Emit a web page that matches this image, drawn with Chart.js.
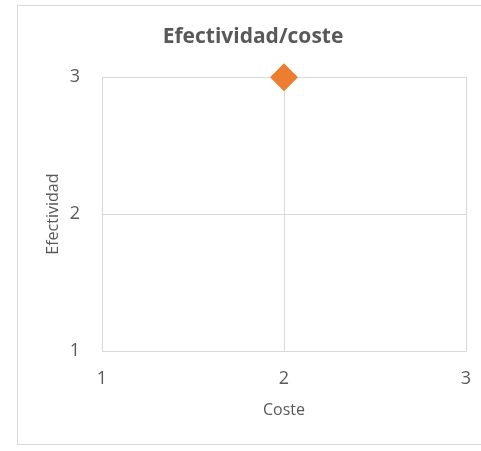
<!DOCTYPE html>
<html>
<head>
<meta charset="utf-8">
<script src="https://cdn.jsdelivr.net/npm/chart.js@4.4.0/dist/chart.umd.min.js"></script>
<style>
  body { margin: 0; background: #fff; }
  .wrap { position: relative; width: 481px; height: 451px; }
  .frame { position: absolute; left: 17px; top: 5px; width: 480px; height: 440px; border: 1px solid #d9d9d9; box-sizing: border-box; }
  canvas { position: absolute; left: 0; top: 0; }
</style>
</head>
<body>
<div class="wrap">
  <div class="frame"></div>
  <canvas id="scatterChart" width="481" height="451"></canvas>
</div>
<script>
// cost vs effectiveness points
const coste = [2];
const efectividad = [3];
const xTicks = [1, 2, 3];
const yTicks = [1, 2, 3];

const gris = '#595959';
const rejilla = '#d9d9d9';
const fuente = "'Open Sans', sans-serif";

const ctx = document.getElementById('scatterChart').getContext('2d');
new Chart(ctx, {
  type: 'scatter',
  data: {
    datasets: [{
      label: 'Efectividad/coste',
      data: coste.map((x, i) => ({ x: x, y: efectividad[i] })),
      pointStyle: 'rectRot',
      pointRadius: 14,
      pointHoverRadius: 14,
      backgroundColor: '#ed7d31',
      borderColor: '#ed7d31',
      borderWidth: 0
    }]
  },
  options: {
    responsive: false,
    animation: false,
    clip: false,
    layout: { padding: { left: 40, right: 15, top: 0, bottom: 20 } },
    plugins: {
      legend: { display: false },
      tooltip: { enabled: false },
      title: {
        display: true,
        text: 'Efectividad/coste',
        color: gris,
        font: { family: fuente, size: 21, weight: 'bold' },
        padding: { top: 24, bottom: 28 }
      }
    },
    scales: {
      x: {
        type: 'linear',
        min: 1,
        max: 3,
        afterBuildTicks: (axis) => { axis.ticks = xTicks.map(v => ({ value: v })); },
        afterFit: (axis) => {
          axis.height = 80;
          // the end labels may spill into the side margins
          axis.paddingLeft = 0;
          axis.paddingRight = 0;
        },
        grid: { color: rejilla, drawTicks: false },
        border: { color: rejilla },
        ticks: { color: gris, padding: 17, font: { family: fuente, size: 18 } },
        title: {
          display: true,
          text: 'Coste',
          color: gris,
          font: { family: fuente, size: 16 },
          padding: { top: 0, bottom: 11 }
        }
      },
      y: {
        type: 'linear',
        min: 1,
        max: 3,
        afterBuildTicks: (axis) => { axis.ticks = yTicks.map(v => ({ value: v })); },
        afterFit: (axis) => { axis.width = 62; },
        grid: { color: rejilla, drawTicks: false },
        border: { color: rejilla },
        ticks: { color: gris, padding: 22, font: { family: fuente, size: 18 } },
        title: {
          display: true,
          text: 'Efectividad',
          color: gris,
          font: { family: fuente, size: 16 },
          padding: { top: 4, bottom: 0 }
        }
      }
    }
  }
});
</script>
</body>
</html>
